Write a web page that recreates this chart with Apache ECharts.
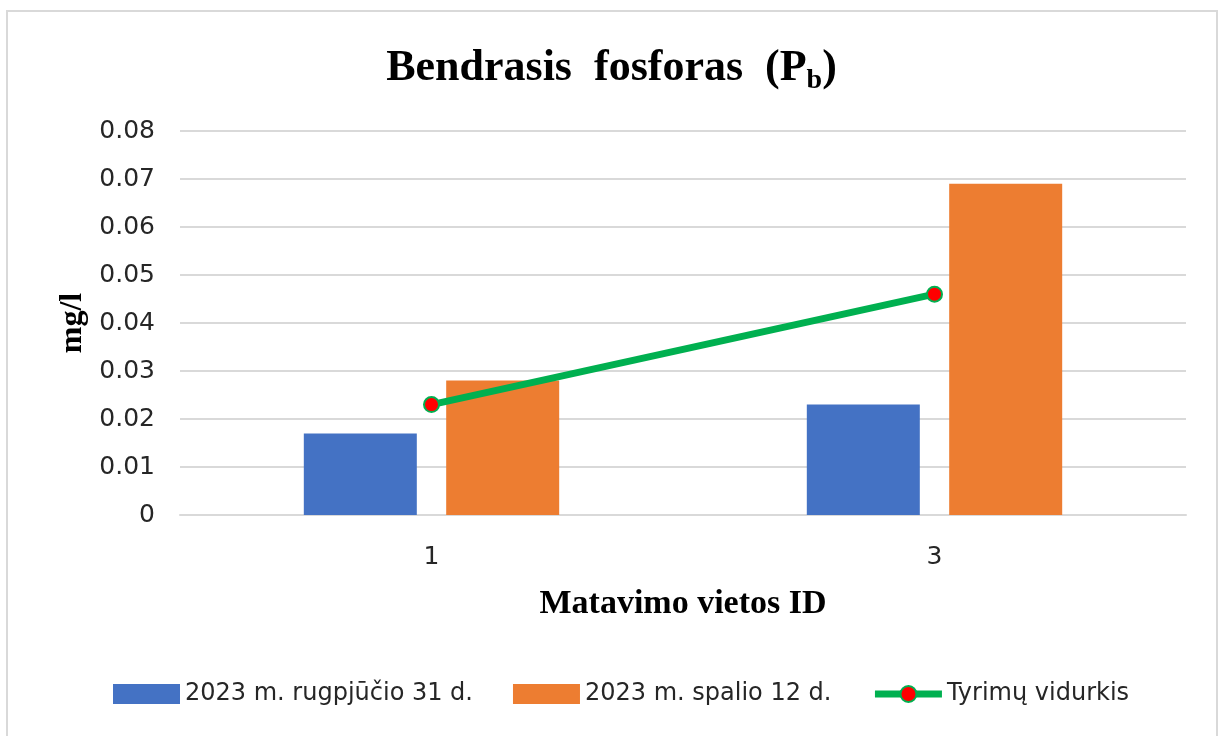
<!DOCTYPE html>
<html>
<head>
<meta charset="utf-8">
<script src="https://cdn.jsdelivr.net/npm/echarts@6/dist/echarts.min.js"></script>
<style>
  html,body{margin:0;padding:0;background:#fff;}
  #chart{position:absolute;left:0;top:0;width:1223px;height:736px;}
  .frame{position:absolute;left:6px;top:10px;width:1212px;height:760px;border:2px solid #D9D9D9;box-sizing:border-box;}
</style>
</head>
<body>
<div class="frame"></div>
<div id="chart"></div>
<script>
// Bendrasis fosforas (Pb) — two sampling dates + mean line
const sites = ['1', '3'];
const aug31 = [0.017, 0.023];
const oct12 = [0.028, 0.069];
const mean = [0.023, 0.046];
const names = ['2023 m. rugpjūčio 31 d.', '2023 m. spalio 12 d.', 'Tyrimų vidurkis'];

const C = {blue:'#4472C4', orange:'#ED7D31', green:'#00B050', red:'#FF0000', grid:'#D9D9D9', text:'#262626'};
const SANS = 'DejaVu Sans';
const SERIF = 'Liberation Serif';

const el = document.getElementById('chart');
const chart = echarts.init(el, null, {renderer:'canvas'});
chart.setOption({
  animation:false,
  backgroundColor:'transparent',
  title:{
    text:'{a|Bendrasis  fosforas  (P}{s|b}{a|)}',
    left:'center', top:38,
    textStyle:{rich:{
      a:{fontFamily:SERIF, fontWeight:'bold', fontSize:44, color:'#000', lineHeight:52},
      s:{fontFamily:SERIF, fontWeight:'bold', fontSize:28, color:'#000', lineHeight:52, padding:[24,0,0,0]}
    }}
  },
  legend:{
    left:108, top:677,
    itemWidth:67, itemHeight:20, itemGap:40,
    textStyle:{fontFamily:SANS, fontSize:24, color:C.text},
    data:[
      {name:names[0], icon:'rect'},
      {name:names[1], icon:'rect'},
      {name:names[2], lineStyle:{width:7, color:C.green}}
    ]
  },
  grid:{left:180, right:37, top:131, bottom:221, containLabel:false},
  xAxis:{
    type:'category', data:sites,
    name:'Matavimo vietos ID', nameLocation:'middle', nameGap:72,
    nameTextStyle:{fontFamily:SERIF, fontWeight:'bold', fontSize:34, color:'#000'},
    axisTick:{show:false},
    axisLine:{lineStyle:{color:C.grid, width:2}},
    axisLabel:{fontFamily:SANS, fontSize:25, color:C.text, margin:30}
  },
  yAxis:{
    type:'value', min:0, max:0.08, interval:0.01,
    name:'mg/l', nameLocation:'middle', nameGap:90, nameRotate:90,
    nameTextStyle:{fontFamily:SERIF, fontWeight:'bold', fontSize:32, color:'#000'},
    axisLine:{show:false}, axisTick:{show:false},
    axisLabel:{fontFamily:SANS, fontSize:25, color:C.text, margin:25,
      formatter:v => v === 0 ? '0' : v.toFixed(2)},
    splitLine:{lineStyle:{color:C.grid, width:2}}
  },
  series:[
    {name:names[0], type:'bar', data:aug31, barWidth:113, barGap:'26%', itemStyle:{color:C.blue}},
    {name:names[1], type:'bar', data:oct12, barWidth:113, itemStyle:{color:C.orange}},
    {name:names[2], type:'line', data:mean, symbol:'circle', symbolSize:15,
      lineStyle:{color:C.green, width:7},
      itemStyle:{color:C.red, borderColor:C.green, borderWidth:2}, z:5}
  ]
});
</script>
</body>
</html>
